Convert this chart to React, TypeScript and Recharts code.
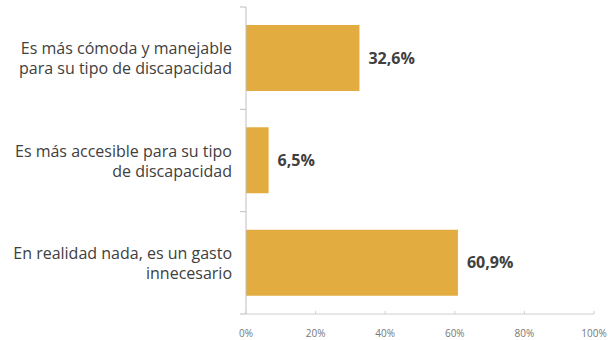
import { BarChart, Bar, XAxis, YAxis, LabelList } from "recharts";

const categories = [
  "Es más cómoda y manejable\npara su tipo de discapacidad",
  "Es más accesible para su tipo\nde discapacidad",
  "En realidad nada, es un gasto\ninnecesario",
];
const shares = [0.326, 0.065, 0.609];
const xTicks = [0, 0.2, 0.4, 0.6, 0.8, 1];
const xTickLabels = ["0%", "20%", "40%", "60%", "80%", "100%"];

const data = categories.map((name, i) => ({ name, value: shares[i] }));

const W = 608;
const H = 340;
const TOP = 7;
const X_AXIS_H = 26;
const band = (H - TOP - X_AXIS_H) / categories.length;
const FONT = "'Open Sans', sans-serif";

function CatTick(props: any) {
  const { x, y, payload, index } = props;
  const lines = String(payload.value).split("\n");
  return (
    <g>
      <line x1={x - 6} x2={x} y1={y - band / 2} y2={y - band / 2} stroke="#bfbfbf" />
      {index === categories.length - 1 && (
        <line x1={x - 6} x2={x} y1={y + band / 2} y2={y + band / 2} stroke="#bfbfbf" />
      )}
      <text textAnchor="end" fontFamily={FONT} fontSize={16} fill="#404040">
        {lines.map((l, i) => (
          <tspan key={i} x={x - 14} y={y - 4 + i * 20}>
            {l}
          </tspan>
        ))}
      </text>
    </g>
  );
}

function PctTick(props: any) {
  const { x, y, index } = props;
  return (
    <g>
      <line x1={x} x2={x} y1={y - 3} y2={y} stroke="#d0d0d0" />
      <text x={x} y={y + 23} textAnchor="middle" fontFamily={FONT} fontSize={10} fill="#777">
        {xTickLabels[index]}
      </text>
    </g>
  );
}

export default function App() {
  return (
    <div style={{ position: "absolute", left: 0, top: 0, background: "#fff" }}>
      <BarChart
        width={W}
        height={H}
        data={data}
        layout="vertical"
        margin={{ top: TOP, right: 14, bottom: 0, left: 0 }}
        barCategoryGap="35%"
      >
        <XAxis
          type="number"
          domain={[0, 1]}
          ticks={xTicks}
          height={X_AXIS_H}
          axisLine={{ stroke: "#d0d0d0" }}
          tickLine={false}
          tickSize={0}
          tickMargin={0}
          tick={<PctTick />}
          interval={0}
        />
        <YAxis
          type="category"
          dataKey="name"
          width={246}
          axisLine={{ stroke: "#bfbfbf" }}
          tickLine={false}
          tickSize={0}
          tickMargin={0}
          tick={<CatTick />}
          interval={0}
        />
        <Bar dataKey="value" fill="#E3AC40" barSize={66} isAnimationActive={false}>
          <LabelList
            dataKey="value"
            position="right"
            offset={9}
            formatter={(v: any) => (Number(v) * 100).toFixed(1).replace(".", ",") + "%"}
            style={{ fontFamily: FONT, fontSize: 16, fontWeight: 700, fill: "#404040" }}
          />
        </Bar>
      </BarChart>
    </div>
  );
}
